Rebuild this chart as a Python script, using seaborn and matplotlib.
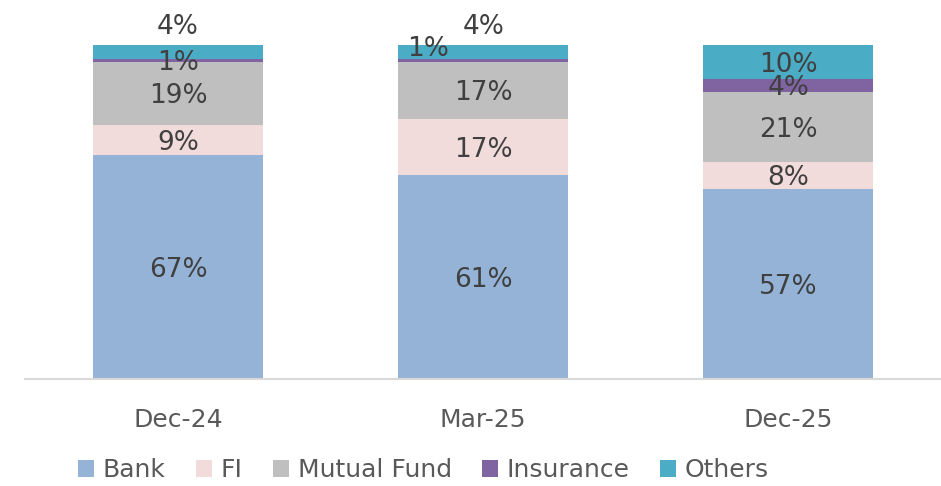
import numpy as np
import pandas as pd
import seaborn as sns
import matplotlib.pyplot as plt
from matplotlib.patches import Patch

# datos del gráfico
periods = ["Dec-24", "Mar-25", "Dec-25"]
segments = ["Bank", "FI", "Mutual Fund", "Insurance", "Others"]
bank = [67, 61, 57]
fi = [9, 17, 8]
mutual_fund = [19, 17, 21]
insurance = [1, 1, 4]
others = [4, 4, 10]

colors = ["#95B3D7", "#F2DCDB", "#BFBFBF", "#8064A2", "#4BACC6"]
values = [bank, fi, mutual_fund, insurance, others]

sns.set_style("white")
plt.rcParams['font.family'] = ['DejaVu Sans']

fig, ax = plt.subplots(figsize=(9.41, 4.86), dpi=100)
fig.subplots_adjust(left=0.027, right=1.0, bottom=0.22, top=0.907)

# ajustes manuales de etiquetas (puntos)
nudges = {("Mar-25", "Insurance"): (-40, 8)}

bottom = np.zeros(len(periods))
for seg, vals, col in zip(segments, values, colors):
    df = pd.DataFrame({"period": periods, "value": vals})
    sns.barplot(data=df, x="period", y="value", color=col, width=0.557,
                bottom=bottom, ax=ax, saturation=1, linewidth=0)
    for i, v in enumerate(vals):
        center = bottom[i] + v / 2
        dx, dy = nudges.get((periods[i], seg), (0, -2))
        if seg == "Others" and v < 5:
            ax.annotate(f"{v}%", (i, bottom[i] + v), xytext=(0, 4),
                        textcoords="offset points", ha="center", va="bottom",
                        fontsize=19, color="#404040", annotation_clip=False)
        else:
            ax.annotate(f"{v}%", (i, center), xytext=(dx, dy),
                        textcoords="offset points", ha="center", va="center",
                        fontsize=19, color="#404040", annotation_clip=False)
    bottom = bottom + np.array(vals)

ax.set_ylim(0, 100)
ax.set_xlim(-0.5, 2.5)
ax.set_xlabel("")
ax.set_ylabel("")
ax.set_yticks([])
sns.despine(ax=ax, left=True)
ax.spines["bottom"].set_color("#D9D9D9")
ax.spines["bottom"].set_linewidth(1.5)
ax.tick_params(axis="x", length=0, pad=21, labelsize=18, labelcolor="#595959")

handles = [Patch(facecolor=c, edgecolor="none") for c in colors]
fig.legend(handles, segments, loc="center", bbox_to_anchor=(0.45, 0.033),
           ncol=5, frameon=False, fontsize=18, handlelength=0.65,
           handleheight=0.65, handletextpad=0.35, columnspacing=1.2,
           labelcolor="#595959")

fig.savefig("out.png", dpi=100)
